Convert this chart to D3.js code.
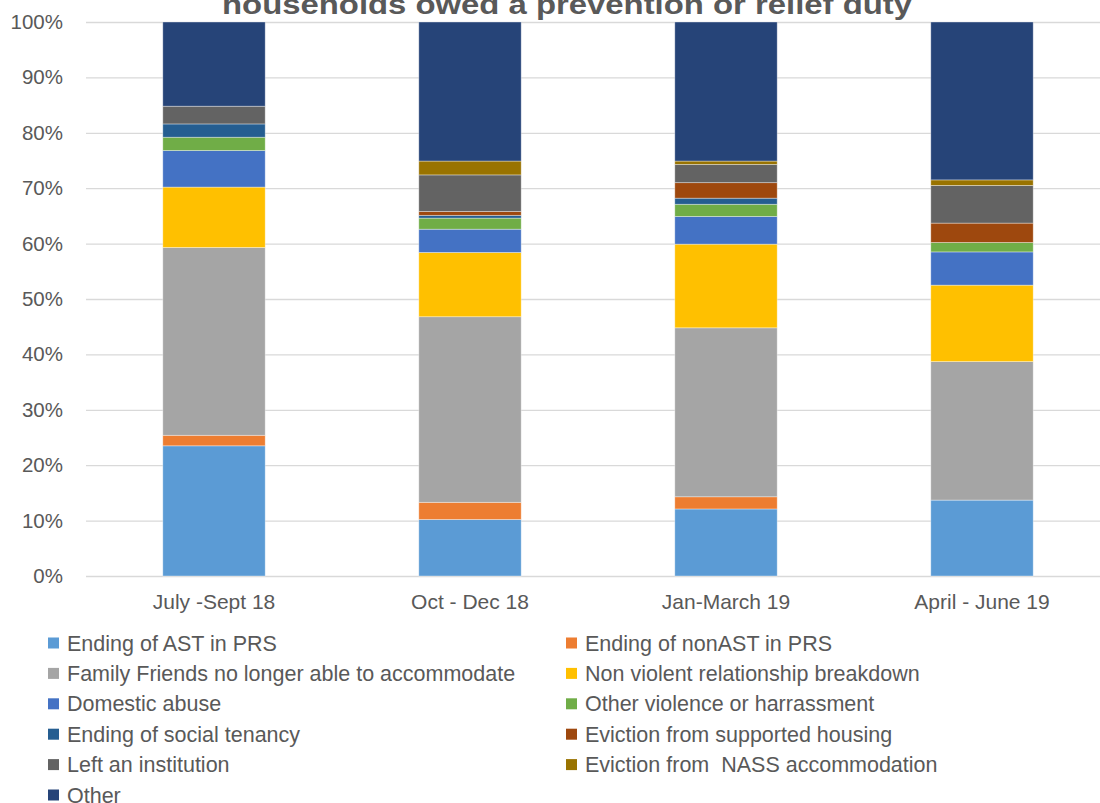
<!DOCTYPE html>
<html><head><meta charset="utf-8">
<script src="https://cdn.jsdelivr.net/npm/d3@7"></script>
<style>body{margin:0;background:#fff}svg{display:block}text{white-space:pre}</style>
</head><body>
<svg id="c" width="1100" height="803"></svg>
<script>
const categories = ["July -Sept 18", "Oct - Dec 18", "Jan-March 19", "April - June 19"];
const seriesNames = ["Ending of AST in PRS","Ending of nonAST in PRS","Family Friends no longer able to accommodate","Non violent relationship breakdown","Domestic abuse","Other violence or harrassment","Ending of social tenancy","Eviction from supported housing","Left an institution","Eviction from  NASS accommodation","Other"];
const astPRS        = [23.5, 10.2, 12.1, 13.7];
const nonAstPRS     = [1.9, 3.1, 2.2, 0.0];
const familyFriends = [33.9, 33.5, 30.5, 25.0];
const nonViolent    = [10.9, 11.6, 15.1, 13.8];
const domesticAbuse = [6.6, 4.2, 5.0, 6.0];
const otherViolence = [2.4, 2.0, 2.2, 1.7];
const socialTenancy = [2.4, 0.5, 1.1, 0.0];
const supportedHousing = [0.0, 0.7, 2.8, 3.5];
const institution   = [3.2, 6.6, 3.3, 6.8];
const nass          = [0.0, 2.5, 0.6, 1.0];
const other         = [15.2, 25.1, 25.1, 28.5];
const yTicks = [0,10,20,30,40,50,60,70,80,90,100];
const colors = ["#5B9BD5","#ED7D31","#A5A5A5","#FFC000","#4472C4","#70AD47","#255E91","#9E480E","#636363","#997300","#264478"];

const seriesVals = [astPRS,nonAstPRS,familyFriends,nonViolent,domesticAbuse,otherViolence,socialTenancy,supportedHousing,institution,nass,other];
const rows = categories.map((c,i)=>{const r={cat:c}; seriesNames.forEach((s,j)=>r[s]=seriesVals[j][i]); return r;});
const stack = d3.stack().keys(seriesNames)(rows);

const svg = d3.select("#c");
const font = "'Liberation Sans', Arial, sans-serif";
const x = d3.scaleBand().domain(categories).range([86,1110]).paddingInner(0.6).paddingOuter(0.3);
const y = d3.scaleLinear().domain([0,100]).range([576,22]);

// gridlines
svg.append("g").selectAll("line").data(yTicks).join("line")
  .attr("x1",86).attr("x2",1100).attr("y1",d=>y(d)+0.5).attr("y2",d=>y(d)+0.5)
  .attr("stroke","#d9d9d9").attr("stroke-width",1.3);

// y axis labels
const ya = svg.append("g").attr("transform","translate(63,0)")
  .call(d3.axisLeft(y).tickValues(yTicks).tickFormat(d=>d+"%").tickSize(0).tickPadding(0));
ya.select(".domain").remove();
ya.selectAll("text").attr("font-family",font).attr("font-size",20.5).attr("fill","#595959");

// bars
svg.append("g").selectAll("g").data(stack).join("g")
  .attr("fill",(d,i)=>colors[i])
  .selectAll("rect").data(d=>d.filter(p=>p[1]-p[0]>0)).join("rect")
  .attr("x",d=>x(d.data.cat)).attr("width",x.bandwidth())
  .attr("y",d=>y(d[1])).attr("height",d=>y(d[0])-y(d[1]))
  .attr("stroke","#ffffff").attr("stroke-opacity",0.45).attr("stroke-width",0.8);

// x axis labels
const xa = svg.append("g").attr("transform","translate(0,593)")
  .call(d3.axisBottom(x).tickSize(0).tickPadding(0));
xa.select(".domain").remove();
xa.selectAll("text").attr("font-family",font).attr("font-size",21).attr("fill","#595959").attr("dy","0.75em");

// title (cut off at top)
svg.append("text").attr("x",567).attr("y",14).attr("text-anchor","middle")
  .attr("font-family",font).attr("font-weight","bold").attr("font-size",27).attr("fill","#595959")
  .attr("textLength",690).attr("lengthAdjust","spacingAndGlyphs")
  .text("households owed a prevention or relief duty");

// legend
const leg = svg.append("g");
seriesNames.forEach((s,i)=>{
  const col = i%2, row = Math.floor(i/2);
  const lx = col===0 ? 48 : 566, ly = 643 + row*30.4;
  leg.append("rect").attr("x",lx).attr("y",ly-5.5).attr("width",11).attr("height",11).attr("fill",colors[i]);
  leg.append("text").attr("x",lx+19).attr("y",ly).attr("dy","0.35em")
    .attr("font-family",font).attr("font-size",21.5).attr("fill","#595959").text(s);
});
</script>
</body></html>
